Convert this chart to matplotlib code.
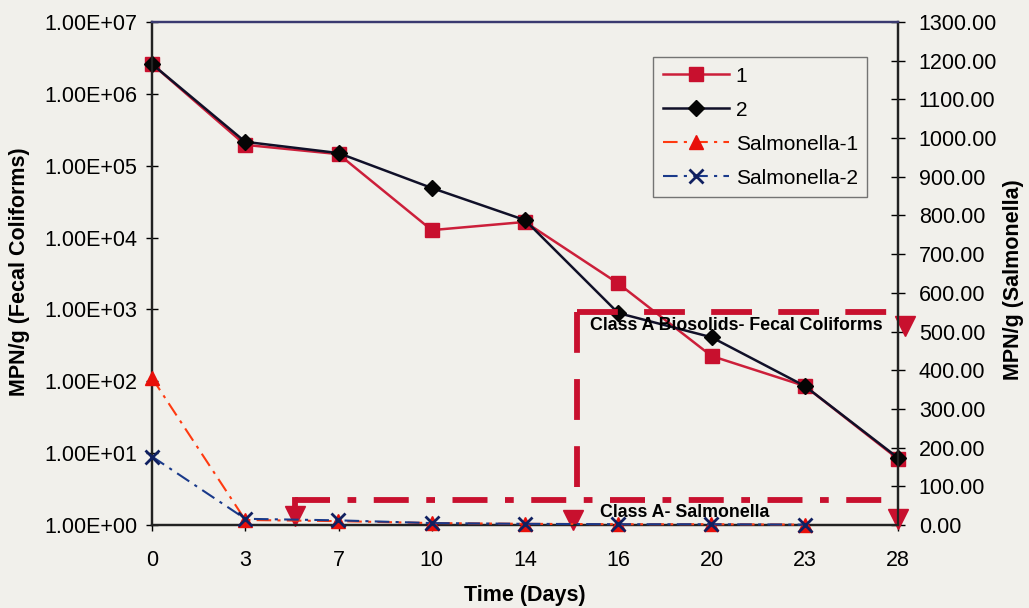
import matplotlib
matplotlib.use("Agg")
import matplotlib.pyplot as plt
from matplotlib.ticker import FuncFormatter, NullLocator, MultipleLocator

plt.rcParams['font.family'] = ['Liberation Sans', 'DejaVu Sans']

days = ["0", "3", "7", "10", "14", "16", "20", "23", "28"]
fecal_1 = [2.6e6, 1.95e5, 1.45e5, 1.27e4, 1.65e4, 2.3e3, 225, 86, 8.3]
fecal_2 = [2.6e6, 2.15e5, 1.5e5, 4.9e4, 1.75e4, 890, 410, 86, 8.6]
salm_days = ["0", "3", "7", "10", "14", "16", "20", "23"]
salm_1 = [380, 13, 10, 5, 3, 2, 2, 1]
salm_2 = [177, 16, 12, 5, 3, 2, 2, 1]

# annotation thresholds (right-axis units) and spans (category index units)
coliform_limit = 550
salm_limit = 65

bg = '#f1f0eb'
red = '#c8102e'
fig = plt.figure(figsize=(10.29, 6.08), dpi=100, facecolor=bg)
ax = fig.add_axes([152/1029, 1-525/608, 746/1029, 503/608], facecolor=bg)
ax2 = ax.twinx()

x = list(range(len(days)))
xs = list(range(len(salm_days)))

h1, = ax.plot(x, fecal_1, color='#cc1f3a', lw=1.8, marker='s', ms=9.5,
              mfc='#c8102e', mec='#c8102e', label='1', clip_on=False, zorder=4)
h2, = ax.plot(x, fecal_2, color='#101028', lw=1.8, marker='D', ms=8.5,
              mfc='#050505', mec='#050505', label='2', clip_on=False, zorder=5)
ax.set_yscale('log')
ax.set_ylim(1, 1e7)
ax.set_xlim(0, 8)
ax.set_xticks(x)
ax.set_xticklabels(days)
ax.yaxis.set_minor_locator(NullLocator())
ax.yaxis.set_major_formatter(FuncFormatter(lambda v, p: f"{v:.2E}"))

h3, = ax2.plot(xs, salm_1, color='#ff3a10', lw=1.5, ls=(0, (7, 3, 1.5, 3)),
               marker='^', ms=9.5, mfc='#e8100a', mec='#e8100a',
               label='Salmonella-1', clip_on=False, zorder=3)
h4, = ax2.plot(xs, salm_2, color='#1a3a8a', lw=1.5, ls=(0, (7, 3, 1.5, 3)),
               marker='x', ms=9.5, mew=2, mec='#102060',
               label='Salmonella-2', clip_on=False, zorder=3)
ax2.set_ylim(0, 1300)
ax2.yaxis.set_major_locator(MultipleLocator(100))
ax2.yaxis.set_major_formatter(FuncFormatter(lambda v, p: f"{v:.2f}"))

# Class A annotation boxes
ax2.plot([4.56, 8.0], [coliform_limit, coliform_limit], color=red, lw=4.2,
         ls=(0, (7, 4.5)), clip_on=False, zorder=2, solid_capstyle='butt')
ax2.plot([4.56, 4.56], [coliform_limit, 40], color=red, lw=4.2,
         ls=(0, (7, 4.5)), clip_on=False, zorder=2)
ax2.plot([4.52], [14], marker='v', ms=15, color=red, clip_on=False, zorder=2)
ax2.plot([8.07], [515], marker='v', ms=15, color=red, clip_on=False, zorder=2)
ax2.text(4.7, 515, 'Class A Biosolids- Fecal Coliforms', fontsize=12.8,
         fontweight='bold', va='center', ha='left', zorder=6)

ax2.plot([1.53, 8.0], [salm_limit, salm_limit], color=red, lw=4.2,
         ls=(0, (6, 3, 1.5, 3)), clip_on=False, zorder=2)
ax2.plot([1.53, 1.53], [salm_limit, 40], color=red, lw=4.2, clip_on=False, zorder=2)
ax2.plot([1.53], [22], marker='v', ms=14, color=red, clip_on=False, zorder=2)
ax2.plot([8.0], [16], marker='v', ms=15, color=red, clip_on=False, zorder=2)
ax2.text(4.8, 33, 'Class A- Salmonella', fontsize=12.8, fontweight='bold',
         va='center', ha='left', zorder=6)

# spines and ticks
for a in (ax, ax2):
    for s in a.spines.values():
        s.set_linewidth(1.6)
        s.set_color('#222222')
    a.spines['top'].set_color('#3a3a70')
ax.tick_params(axis='y', which='major', direction='inout', length=9, width=1,
               labelsize=15.5, pad=6)
ax.tick_params(axis='x', direction='out', length=4, width=1, labelsize=15.5, pad=14)
ax2.tick_params(axis='y', direction='inout', length=10, width=1,
                labelsize=15.5, pad=10)

fig.text(20/1029, 1-272/608, 'MPN/g (Fecal Coliforms)', fontsize=15.5,
         fontweight='bold', rotation=90, ha='center', va='center')
fig.text(1013/1029, 1-280/608, 'MPN/g (Salmonella)', fontsize=15.5,
         fontweight='bold', rotation=90, ha='center', va='center')
fig.text(525/1029, 1-595/608, 'Time (Days)', fontsize=15.5,
         fontweight='bold', ha='center', va='center')

leg = ax2.legend(handles=[h1, h2, h3, h4], loc='upper left',
                 bbox_to_anchor=(0.672, 0.93), fontsize=15, handlelength=3.2,
                 frameon=True, fancybox=False, borderpad=0.45, labelspacing=0.72,
                 handletextpad=0.3, borderaxespad=0)
leg.get_frame().set_edgecolor('#555555')
leg.get_frame().set_facecolor(bg)
leg.get_frame().set_linewidth(1.0)
leg.set_zorder(10)

fig.savefig('out.png', dpi=100, facecolor=bg)
